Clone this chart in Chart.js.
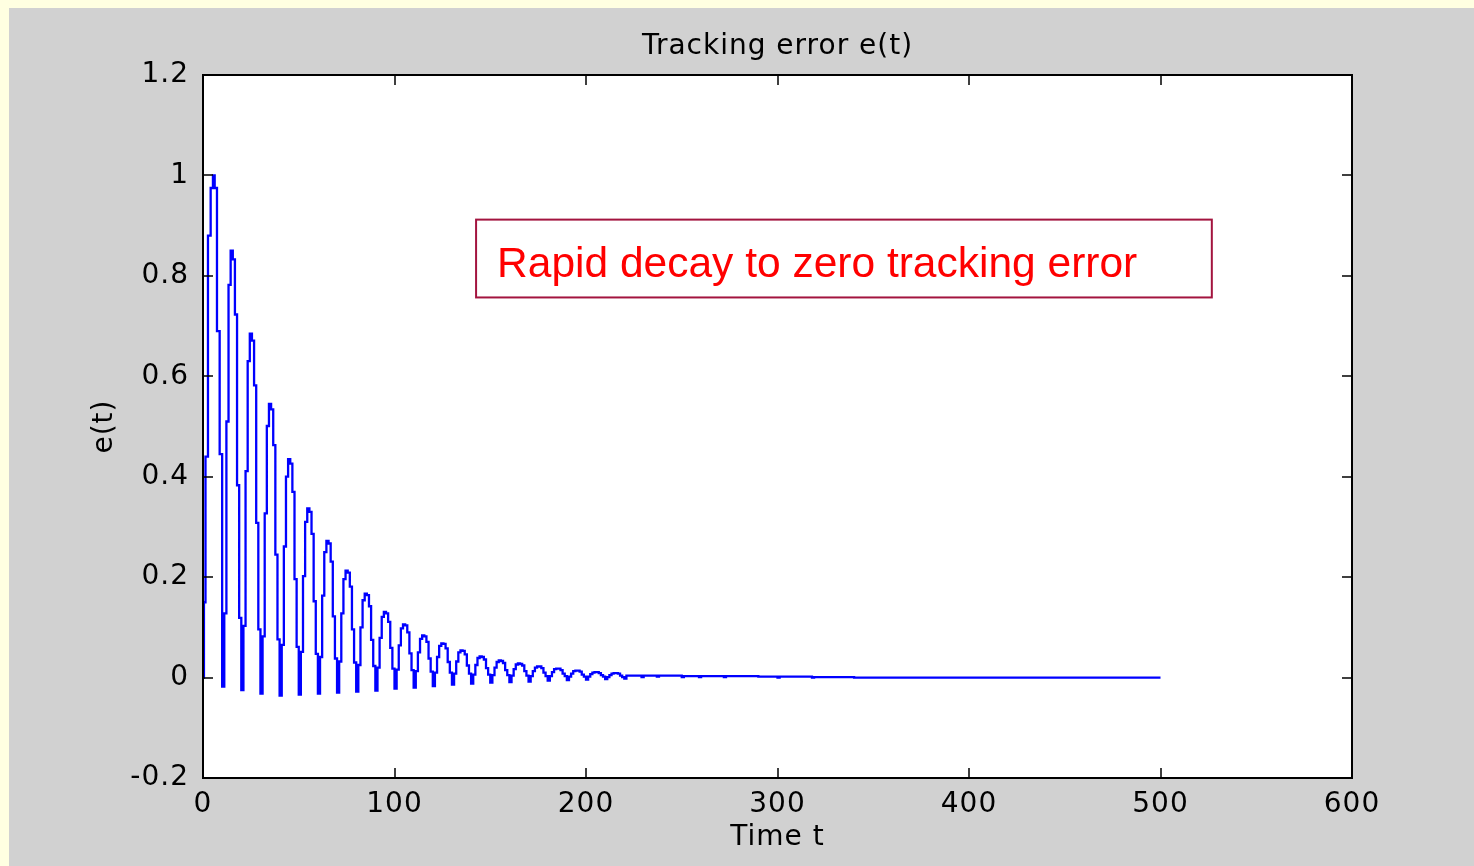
<!DOCTYPE html>
<html>
<head>
<meta charset="utf-8">
<title>Tracking error e(t)</title>
<script src="https://cdn.jsdelivr.net/npm/chart.js@4.4.1/dist/chart.umd.min.js"></script>
<style>
  html, body { margin: 0; padding: 0; background: #ffffe1; }
  #contenedor { width: 1474px; height: 866px; }
</style>
</head>
<body>
<div id="contenedor"><canvas id="graficaError" width="1474" height="866"></canvas></div>
<script>
// tiempos de muestreo (un periodo por fila)
const tiempo = [
    0, 0.5, 1.3, 2.6, 4, 5.2, 6.1, 7.3, 8.7,
    10, 11.11, 12.22, 13.33, 14.44, 15.56, 16.67, 17.78, 18.89,
    20, 21.11, 22.22, 23.33, 24.44, 25.56, 26.67, 27.78, 28.89,
    30, 31.11, 32.22, 33.33, 34.44, 35.56, 36.67, 37.78, 38.89,
    40, 41.11, 42.22, 43.33, 44.44, 45.56, 46.67, 47.78, 48.89,
    50, 51.11, 52.22, 53.33, 54.44, 55.56, 56.67, 57.78, 58.89,
    60, 61.11, 62.22, 63.33, 64.44, 65.56, 66.67, 67.78, 68.89,
    70, 71.11, 72.22, 73.33, 74.44, 75.56, 76.67, 77.78, 78.89,
    80, 81.11, 82.22, 83.33, 84.44, 85.56, 86.67, 87.78, 88.89,
    90, 91.11, 92.22, 93.33, 94.44, 95.56, 96.67, 97.78, 98.89,
    100, 101.11, 102.22, 103.33, 104.44, 105.56, 106.67, 107.78, 108.89,
    110, 111.11, 112.22, 113.33, 114.44, 115.56, 116.67, 117.78, 118.89,
    120, 121.11, 122.22, 123.33, 124.44, 125.56, 126.67, 127.78, 128.89,
    130, 131.11, 132.22, 133.33, 134.44, 135.56, 136.67, 137.78, 138.89,
    140, 141.11, 142.22, 143.33, 144.44, 145.56, 146.67, 147.78, 148.89,
    150, 151.11, 152.22, 153.33, 154.44, 155.56, 156.67, 157.78, 158.89,
    160, 161.11, 162.22, 163.33, 164.44, 165.56, 166.67, 167.78, 168.89,
    170, 171.11, 172.22, 173.33, 174.44, 175.56, 176.67, 177.78, 178.89,
    180, 181.11, 182.22, 183.33, 184.44, 185.56, 186.67, 187.78, 188.89,
    190, 191.11, 192.22, 193.33, 194.44, 195.56, 196.67, 197.78, 198.89,
    200, 201.11, 202.22, 203.33, 204.44, 205.56, 206.67, 207.78, 208.89,
    210, 211.11, 212.22, 213.33, 214.44, 215.56, 216.67, 217.78, 218.89,
    220, 221.11, 229, 230.11, 237, 238.11, 250, 251.11, 259, 260.11,
    272, 273.11, 290, 300, 301.11, 318, 319.11, 340, 500
];

// error de seguimiento e(t), mismo orden que tiempo
const errorSeguimiento = [
    0, 0.15, 0.44, 0.88, 0.975, 1.0, 0.975, 0.69, 0.445,
    -0.018, 0.128, 0.51, 0.782, 0.85, 0.833, 0.723, 0.383, 0.119,
    -0.025, 0.103, 0.411, 0.63, 0.685, 0.671, 0.582, 0.308, 0.096,
    -0.032, 0.082, 0.327, 0.501, 0.545, 0.534, 0.463, 0.245, 0.076,
    -0.036, 0.065, 0.261, 0.4, 0.435, 0.426, 0.37, 0.196, 0.061,
    -0.034, 0.051, 0.202, 0.31, 0.337, 0.33, 0.286, 0.152, 0.047,
    -0.032, 0.041, 0.163, 0.25, 0.272, 0.267, 0.231, 0.122, 0.038,
    -0.03, 0.032, 0.128, 0.196, 0.213, 0.209, 0.181, 0.096, 0.03,
    -0.028, 0.025, 0.1, 0.154, 0.167, 0.164, 0.142, 0.075, 0.023,
    -0.026, 0.02, 0.079, 0.121, 0.131, 0.128, 0.111, 0.059, 0.018,
    -0.022, 0.016, 0.064, 0.098, 0.106, 0.104, 0.09, 0.048, 0.015,
    -0.02, 0.013, 0.05, 0.077, 0.084, 0.082, 0.071, 0.038, 0.012,
    -0.017, 0.01, 0.041, 0.063, 0.068, 0.067, 0.058, 0.031, 0.01,
    -0.014, 0.008, 0.032, 0.05, 0.054, 0.053, 0.046, 0.024, 0.008,
    -0.012, 0.006, 0.025, 0.039, 0.042, 0.041, 0.036, 0.019, 0.006,
    -0.01, 0.005, 0.02, 0.031, 0.034, 0.033, 0.029, 0.015, 0.005,
    -0.009, 0.004, 0.017, 0.026, 0.028, 0.027, 0.024, 0.013, 0.004,
    -0.008, 0.003, 0.013, 0.02, 0.022, 0.022, 0.019, 0.01, 0.003,
    -0.006, 0.003, 0.011, 0.017, 0.018, 0.018, 0.015, 0.008, 0.003,
    -0.005, 0.002, 0.008, 0.013, 0.014, 0.014, 0.012, 0.006, 0.002,
    -0.004, 0.002, 0.007, 0.01, 0.011, 0.011, 0.009, 0.005, 0.002,
    -0.003, 0.001, 0.005, 0.008, 0.009, 0.009, 0.008, 0.004, 0.001,
    -0.002, 0.004, 0.001, 0.004, 0.002, 0.004, 0.001, 0.003, 0.001, 0.003,
    0.001, 0.003, 0.002, 0, 0.002, 0, 0.001, 0, 0
];

const ticksX = [0, 100, 200, 300, 400, 500, 600];
const ticksY = [-0.2, 0, 0.2, 0.4, 0.6, 0.8, 1, 1.2];
const etiquetasY = ['-0.2', '0', '0.2', '0.4', '0.6', '0.8', '1', '1.2'];

const titulo = 'Tracking error e(t)';
const tituloX = 'Time t';
const tituloY = 'e(t)';
const textoNota = 'Rapid decay to zero tracking error';

// caja de la nota, en unidades de los ejes
const cajaNota = { t0: 142.6, t1: 526.8, e0: 0.912, e1: 0.757 };

const fuenteEjes = { family: 'DejaVu Sans', size: 28, weight: 'normal' };

const fondoFigura = {
    id: 'fondoFigura',
    beforeDraw(chart) {
        const { ctx, chartArea } = chart;
        ctx.save();
        ctx.fillStyle = '#ffffe1';
        ctx.fillRect(0, 0, chart.width, chart.height);
        ctx.fillStyle = '#d1d1d1';
        ctx.fillRect(9, 8, chart.width - 9, chart.height - 8);
        ctx.fillStyle = '#ffffff';
        ctx.fillRect(chartArea.left, chartArea.top, chartArea.right - chartArea.left, chartArea.bottom - chartArea.top);
        ctx.restore();
        ctx.letterSpacing = '1px';
    }
};

const marcoEjes = {
    id: 'marcoEjes',
    afterDatasetsDraw(chart) {
        const { ctx, chartArea: a, scales } = chart;
        const largo = 10;
        ctx.save();
        ctx.strokeStyle = '#000';
        ctx.lineWidth = 2;
        ctx.strokeRect(a.left, a.top, a.right - a.left, a.bottom - a.top);
        ctx.lineWidth = 1.5;
        ctx.beginPath();
        ticksX.forEach(v => {
            const px = Math.round(scales.x.getPixelForValue(v));
            ctx.moveTo(px, a.bottom); ctx.lineTo(px, a.bottom - largo);
            ctx.moveTo(px, a.top); ctx.lineTo(px, a.top + largo);
        });
        ticksY.forEach(v => {
            const py = Math.round(scales.y.getPixelForValue(v));
            ctx.moveTo(a.left, py); ctx.lineTo(a.left + largo, py);
            ctx.moveTo(a.right, py); ctx.lineTo(a.right - largo, py);
        });
        ctx.stroke();

        // nota con recuadro
        const x0 = scales.x.getPixelForValue(cajaNota.t0);
        const x1 = scales.x.getPixelForValue(cajaNota.t1);
        const y0 = scales.y.getPixelForValue(cajaNota.e0);
        const y1 = scales.y.getPixelForValue(cajaNota.e1);
        ctx.fillStyle = '#ffffff';
        ctx.fillRect(x0, y0, x1 - x0, y1 - y0);
        ctx.strokeStyle = '#a3143f';
        ctx.lineWidth = 2;
        ctx.strokeRect(x0, y0, x1 - x0, y1 - y0);
        ctx.letterSpacing = '0px';
        ctx.fillStyle = '#ff0000';
        ctx.font = '42.5px "Liberation Sans", Arial, sans-serif';
        ctx.textBaseline = 'alphabetic';
        ctx.textAlign = 'left';
        ctx.fillText(textoNota, x0 + 21, y0 + 57);
        ctx.restore();
    }
};

const buscarEtiqueta = (v) => {
    const i = ticksY.findIndex(t => Math.abs(t - v) < 1e-9);
    return i >= 0 ? etiquetasY[i] : '';
};

const crearGrafica = () => {
    const canvas = document.getElementById('graficaError');
    if (!canvas) return;
    const ctx = canvas.getContext('2d');

    new Chart(ctx, {
        type: 'line',
        data: {
            datasets: [{
                label: tituloY,
                data: tiempo.map((t, i) => ({ x: t, y: errorSeguimiento[i] })),
                borderColor: '#0000ff',
                borderWidth: 2.3,
                pointRadius: 0,
                stepped: true,
                fill: false
            }]
        },
        options: {
            responsive: false,
            animation: false,
            layout: { padding: { top: 8, right: 122, bottom: 0, left: 0 } },
            plugins: {
                legend: { display: false },
                tooltip: { enabled: false },
                title: {
                    display: true,
                    fullSize: false,
                    text: titulo,
                    color: '#000',
                    font: fuenteEjes,
                    padding: { top: 22, bottom: 11.4 }
                }
            },
            scales: {
                x: {
                    type: 'linear',
                    min: 0,
                    max: 600,
                    afterBuildTicks: (s) => { s.ticks = ticksX.map(v => ({ value: v })); },
                    afterFit: (s) => { s.height = 88; },
                    grid: { display: false },
                    border: { display: false },
                    ticks: {
                        color: '#000',
                        font: fuenteEjes,
                        padding: 2,
                        maxRotation: 0,
                        autoSkip: false,
                        callback: (v) => String(v)
                    },
                    title: {
                        display: true,
                        text: tituloX,
                        color: '#000',
                        font: fuenteEjes,
                        padding: { top: 0, bottom: 11 }
                    }
                },
                y: {
                    type: 'linear',
                    min: -0.2,
                    max: 1.2,
                    afterBuildTicks: (s) => { s.ticks = ticksY.map(v => ({ value: v })); },
                    afterFit: (s) => { s.width = 203; },
                    grid: { display: false },
                    border: { display: false },
                    ticks: {
                        color: '#000',
                        font: fuenteEjes,
                        padding: 6,
                        autoSkip: false,
                        callback: (v) => buscarEtiqueta(v)
                    },
                    title: {
                        display: true,
                        text: tituloY,
                        color: '#000',
                        font: fuenteEjes,
                        padding: { top: 88, bottom: 0 }
                    }
                }
            }
        },
        plugins: [fondoFigura, marcoEjes]
    });
};

crearGrafica();
</script>
</body>
</html>
